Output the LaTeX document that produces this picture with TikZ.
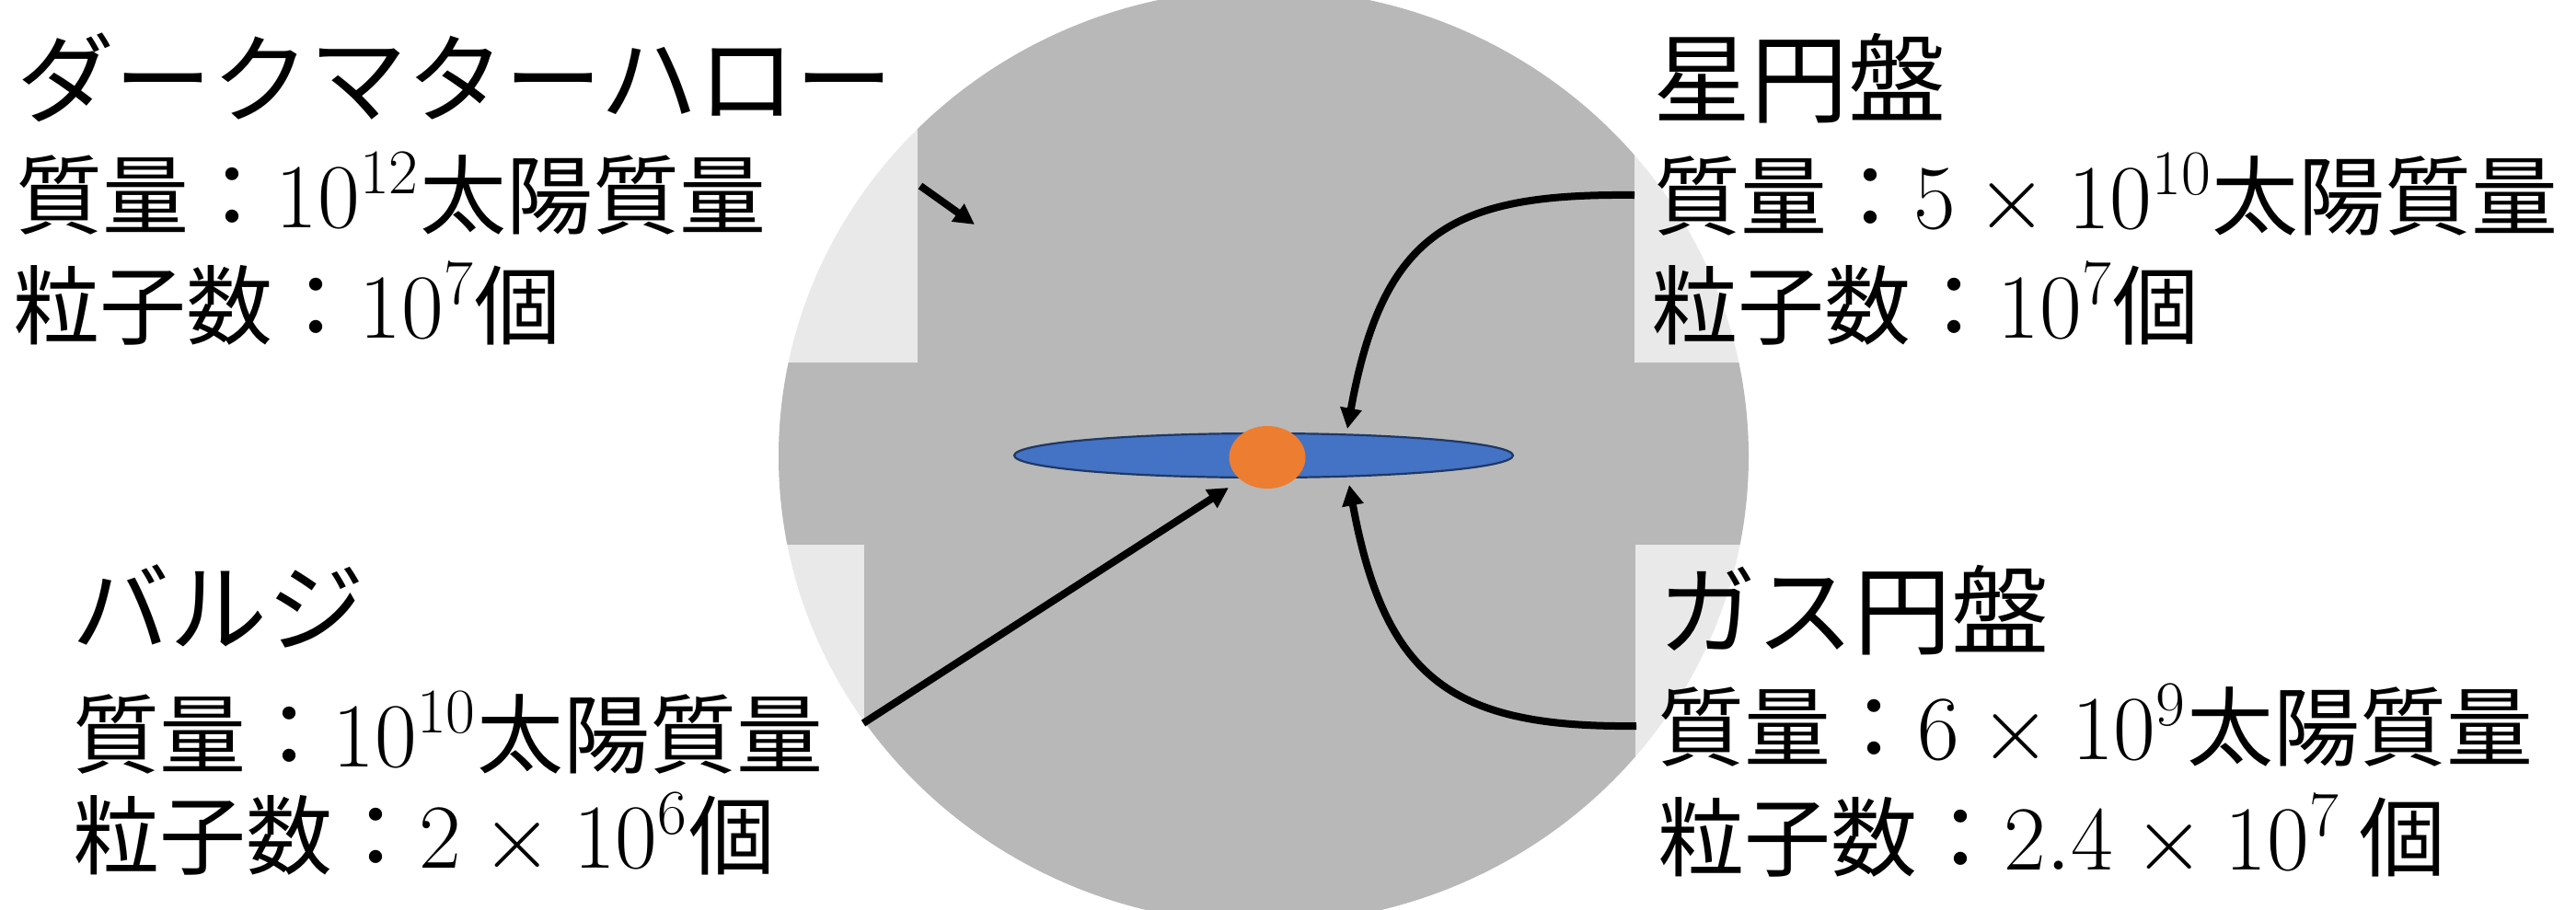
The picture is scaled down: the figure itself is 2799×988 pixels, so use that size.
\documentclass[tikz,border=0pt]{standalone}
\usepackage{fontspec}
\newfontfamily\jp{Noto Sans CJK JP}
\usetikzlibrary{shapes.geometric,arrows.meta}
\definecolor{halogray}{HTML}{B8B8B8}
\definecolor{diskblue}{HTML}{4472C4}
\definecolor{disknavy}{HTML}{1F3864}
\definecolor{bulgeorange}{HTML}{ED7D31}
\def\u{0.25pt}
\tikzset{
  bodytext/.style={anchor=base west, inner sep=0pt, font=\jp\fontsize{23.5}{28}\selectfont},
  titletext/.style={anchor=base west, inner sep=0pt, font=\jp\fontsize{26.5}{32}\selectfont},
  labelbox/.style={fill=white, fill opacity=0.7, draw=none},
  pointer/.style={line width=2pt, -{Triangle[length=5.6pt,width=5.6pt]}},
}
\begin{document}
\begin{tikzpicture}[x=0.25pt,y=-0.25pt]
\useasboundingbox (0,0) rectangle (2799,988);
\clip (0,0) rectangle (2799,988);
\fill[white] (0,0) rectangle (2799,988);
% halo
\node[ellipse, fill=halogray, inner sep=0pt, minimum width=1054*\u, minimum height=1016*\u] (halo) at (1373,496) {};
% semi-transparent label boxes
\fill[labelbox] (0,0) rectangle (997,394);
\fill[labelbox] (1776,0) rectangle (2799,394);
\fill[labelbox] (0,592) rectangle (939,988);
\fill[labelbox] (1777,592) rectangle (2799,988);
% disk and bulge
\node[ellipse, fill=diskblue, draw=disknavy, line width=0.55pt, inner sep=0pt, minimum width=542*\u, minimum height=48*\u] (disk) at (1373,495) {};
\node[ellipse, fill=bulgeorange, inner sep=0pt, minimum width=83*\u, minimum height=68*\u] (bulge) at (1377,497) {};
% texts
\node[titletext] (tlT) at (18,125) {ダークマターハロー};
\node[bodytext] (tl2) at (17,247) {質量：$10^{12}$太陽質量};
\node[bodytext] (tl3) at (14,367) {粒子数：$10^{7}$個};
\node[titletext] (trT) at (1796,125) {星円盤};
\node[bodytext] (tr2) at (1797,248) {質量：$5\times10^{10}$太陽質量};
\node[bodytext] (tr3) at (1794,367) {粒子数：$10^{7}$個};
\node[titletext] (blT) at (78,700) {バルジ};
\node[bodytext] (bl2) at (79,833) {質量：$10^{10}$太陽質量};
\node[bodytext] (bl3) at (79,943) {粒子数：$2\times10^{6}$個};
\node[titletext] (brT) at (1802,703) {ガス円盤};
\node[bodytext] (br2) at (1801,825) {質量：$6\times10^{9}$太陽質量};
\node[bodytext] (br3) at (1801,945) {粒子数：$2.4\times10^{7}$ 個};
% arrow end points
\coordinate (haloFrom) at (1000,202);
\coordinate (haloTo) at (1059,244);
\coordinate (starFrom) at (1776,212);
\coordinate (starTo) at (1464,466);
\coordinate (gasFrom) at (1778,789);
\coordinate (gasTo) at (1466,527);
\coordinate (bulgeFrom) at (938,786);
\coordinate (bulgeTo) at (1335,530);
% arrows
\draw[pointer] (haloFrom) -- (haloTo);
\draw[pointer] (bulgeFrom) -- (bulgeTo);
\draw[pointer] (starFrom) .. controls (1580,210) and (1503,250) .. (starTo);
\draw[pointer] (gasFrom) .. controls (1580,791) and (1505,740) .. (gasTo);
\end{tikzpicture}
\end{document}
